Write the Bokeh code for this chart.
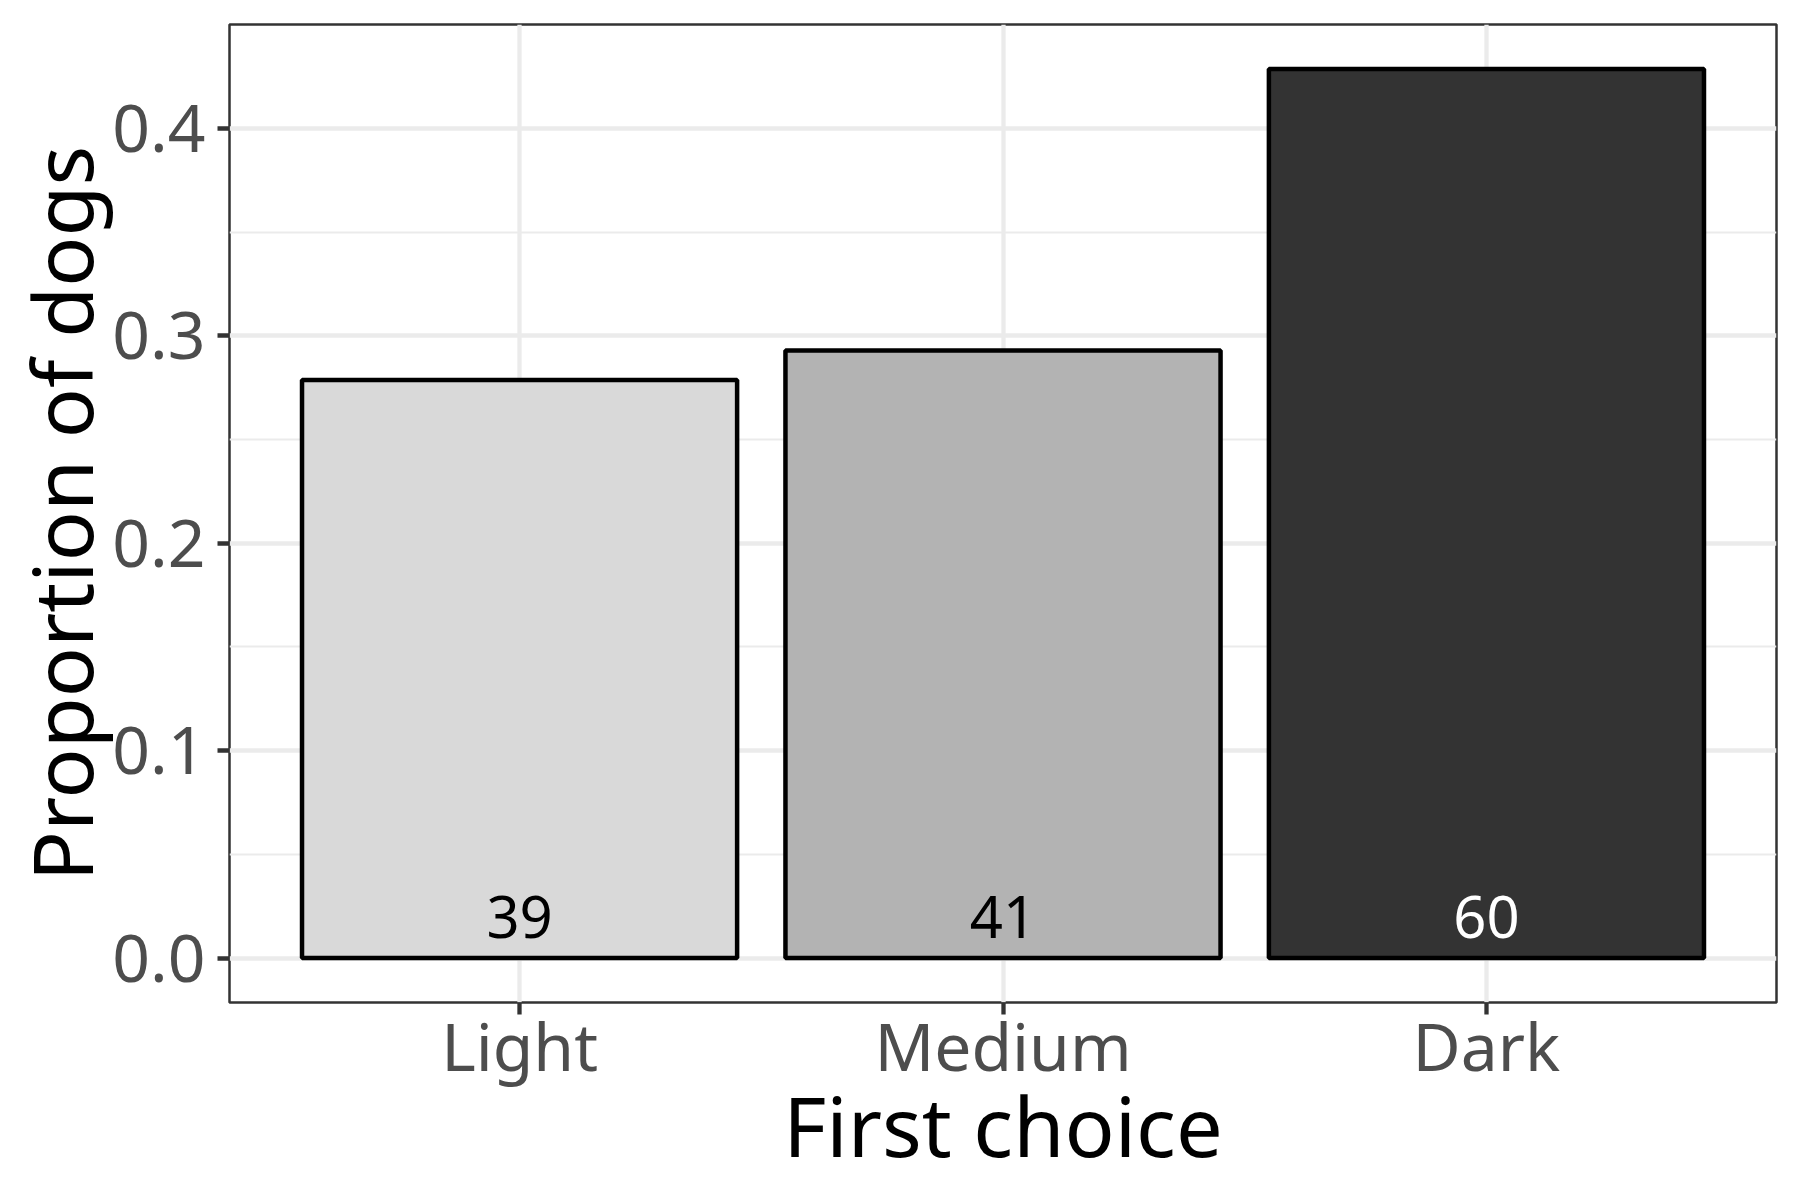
from bokeh.core.properties import value
from bokeh.embed import file_html
from bokeh.models import (ColumnDataSource, FactorRange, FixedTicker,
                          PrintfTickFormatter, Range1d)
from bokeh.plotting import figure
from bokeh.resources import INLINE

# first-choice counts and proportions
choices = ["Light", "Medium", "Dark"]
counts = [39, 41, 60]
proportions = [0.2786, 0.2929, 0.4286]
fills = ["#D9D9D9", "#B3B3B3", "#333333"]
label_colors = ["#000000", "#000000", "#FFFFFF"]
y_ticks = [0.0, 0.1, 0.2, 0.3, 0.4]
y_minor = [0.05, 0.15, 0.25, 0.35]

FONT = "Noto Sans"

source = ColumnDataSource(dict(
    choice=choices,
    prop=proportions,
    count=[str(c) for c in counts],
    fill=fills,
    label_color=label_colors,
    label_y=[0.02] * len(choices),
))

# ggplot-like expansion: 5% each side of [0, max]
ymax = max(proportions)
pad = 0.05 * ymax

p = figure(
    x_range=FactorRange(*choices, range_padding=0.1, range_padding_units="absolute"),
    y_range=Range1d(-pad, ymax + pad),
    frame_width=1547,
    frame_height=978,
    min_border_left=229,
    min_border_right=24,
    min_border_top=24,
    min_border_bottom=198,
    output_backend="svg",
    toolbar_location=None,
    tools="",
    x_axis_label="First choice",
    y_axis_label="Proportion of dogs",
)

p.vbar(
    x="choice", top="prop", bottom=0, width=0.9, source=source,
    fill_color="fill", line_color="#000000", line_width=4.5,
)
p.text(
    x="choice", y="label_y", text="count", source=source,
    text_color="label_color", text_align="center", text_baseline="middle",
    text_font=value(FONT), text_font_size="58px",
)

p.background_fill_color = "#FFFFFF"
p.border_fill_color = "#FFFFFF"
p.outline_line_color = "#333333"
p.outline_line_width = 2.5

ticker = FixedTicker(ticks=y_ticks, minor_ticks=y_minor)
p.yaxis.ticker = ticker
p.ygrid.ticker = ticker
p.yaxis.formatter = PrintfTickFormatter(format="%.1f")

p.xgrid.grid_line_color = "#EBEBEB"
p.xgrid.grid_line_width = 4.3
p.ygrid.grid_line_color = "#EBEBEB"
p.ygrid.grid_line_width = 4.3
p.ygrid.minor_grid_line_color = "#EBEBEB"
p.ygrid.minor_grid_line_width = 2.1

for ax in (p.xaxis, p.yaxis):
    ax.axis_line_color = None
    ax.major_tick_line_color = "#333333"
    ax.major_tick_line_width = 4.3
    ax.major_tick_in = 0
    ax.major_tick_out = 12
    ax.minor_tick_line_color = None
    ax.major_label_text_font = FONT
    ax.major_label_text_font_size = "66px"
    ax.major_label_text_color = "#4D4D4D"
    ax.axis_label_text_font = FONT
    ax.axis_label_text_font_size = "83px"
    ax.axis_label_text_font_style = "normal"
    ax.axis_label_text_color = "#000000"

# the y title is pushed as far left as the 229px border allows
p.yaxis.major_label_standoff = 12
p.yaxis.axis_label_standoff = -8
p.xaxis.major_label_standoff = -15
p.xaxis.axis_label_standoff = -25

open("out.html", "w").write(file_html(p, INLINE))
